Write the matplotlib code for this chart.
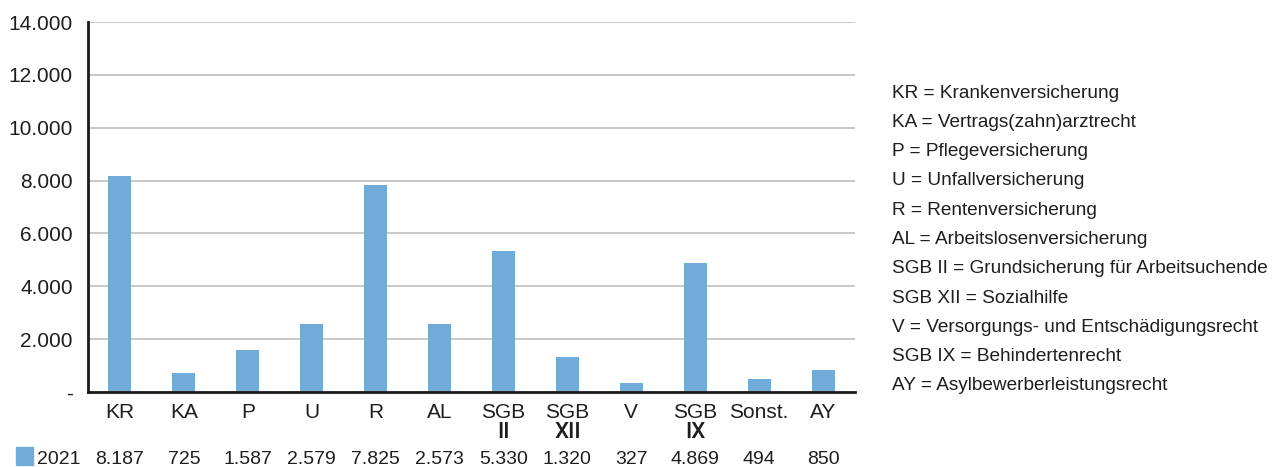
import matplotlib
matplotlib.use("Agg")
import matplotlib.pyplot as plt
import matplotlib.transforms as mtransforms
from matplotlib.patches import Rectangle

plt.rcParams['font.family'] = ['Liberation Sans', 'DejaVu Sans']

categories = ["KR", "KA", "P", "U", "R", "AL", "SGB\nII", "SGB\nXII", "V", "SGB\nIX", "Sonst.", "AY"]
values_2021 = [8187, 725, 1587, 2579, 7825, 2573, 5330, 1320, 327, 4869, 494, 850]
series_label = "2021"
y_ticks = [0, 2000, 4000, 6000, 8000, 10000, 12000, 14000]
glossary = [
    "KR = Krankenversicherung",
    "KA = Vertrags(zahn)arztrecht",
    "P = Pflegeversicherung",
    "U = Unfallversicherung",
    "R = Rentenversicherung",
    "AL = Arbeitslosenversicherung",
    "SGB II = Grundsicherung für Arbeitsuchende",
    "SGB XII = Sozialhilfe",
    "V = Versorgungs- und Entschädigungsrecht",
    "SGB IX = Behindertenrecht",
    "AY = Asylbewerberleistungsrecht",
]

BAR = "#71acd9"
TXT = "#1e1e1e"
W, H = 1274, 467


def de(v):
    return f"{v:,}".replace(",", ".")


fig = plt.figure(figsize=(W / 100, H / 100), dpi=100)
ax = fig.add_axes([88 / W, 1 - 392 / H, (855 - 88) / W, (392 - 22) / H])

x = list(range(len(categories)))
ax.bar(x, values_2021, width=0.36, color=BAR, zorder=3)
ax.set_xlim(-0.5, len(categories) - 0.5)
ax.set_ylim(0, 14000)

ax.set_yticks(y_ticks)
ax.set_yticklabels(["-" if t == 0 else de(t) for t in y_ticks])
ax.set_xticks(x)
# first line as tick label, roman numeral line drawn slightly heavier underneath
ax.set_xticklabels([c.split("\n")[0] for c in categories])
ax.tick_params(axis='y', length=0, pad=11, labelsize=15, labelcolor=TXT)
ax.tick_params(axis='x', length=0, pad=8, labelsize=15, labelcolor=TXT)

trans = mtransforms.blended_transform_factory(ax.transData, fig.transFigure)
for xi, c in zip(x, categories):
    parts = c.split("\n")
    if len(parts) > 1:
        ax.text(xi, 1 - 433 / H, parts[1],
                transform=trans, ha="center", va="center",
                fontsize=16, family=["Roboto", "DejaVu Sans"], fontweight="medium",
                color=TXT, clip_on=False)

for t in y_ticks[1:]:
    ax.axhline(t, color="#c8c8c8", lw=1.4, zorder=1)

for s in ["top", "right"]:
    ax.spines[s].set_visible(False)
for s in ["left", "bottom"]:
    ax.spines[s].set_color("#1a1a1a")
    ax.spines[s].set_linewidth(2.0)
    ax.spines[s].set_zorder(4)

# value row under the categories
for xi, v in zip(x, values_2021):
    ax.text(xi, 1 - 459 / H, de(v), transform=trans, ha="center", va="center",
            fontsize=14, color=TXT, clip_on=False)

fig.patches.append(Rectangle((16 / W, 1 - 465 / H), 17 / W, 18 / H,
                             transform=fig.transFigure, color=BAR))
fig.text(37 / W, 1 - 459 / H, series_label, ha="left", va="center", fontsize=14, color=TXT)

# abbreviation glossary
for i, line in enumerate(glossary):
    fig.text(892 / W, 1 - (93 + i * 29.3) / H, line, ha="left", va="center",
             fontsize=13.7, color=TXT)

fig.savefig("out.png", dpi=100, facecolor="white")
